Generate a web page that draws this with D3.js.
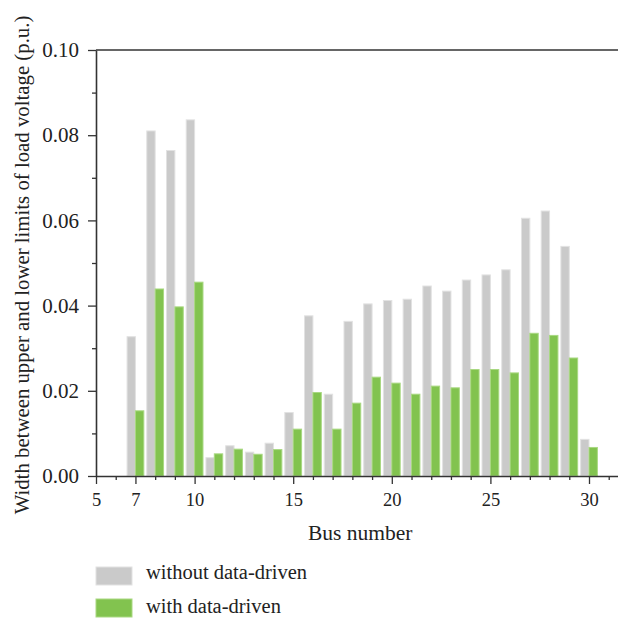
<!DOCTYPE html>
<html>
<head>
<meta charset="utf-8">
<script src="https://cdn.jsdelivr.net/npm/d3@7/dist/d3.min.js"></script>
<style>
  html, body { margin: 0; padding: 0; background: #fff; }
  svg text { font-family: "Liberation Serif", "DejaVu Serif", serif; fill: #222; }
</style>
</head>
<body>
<svg id="chart" width="618" height="622"></svg>
<script>
// Bus numbers and voltage band widths (p.u.)
const buses = [7, 8, 9, 10, 11, 12, 13, 14, 15, 16, 17, 18, 19, 20, 21, 22, 23, 24, 25, 26, 27, 28, 29, 30];
const withoutDD = [0.0327, 0.0810, 0.0764, 0.0836, 0.0043, 0.0071, 0.0056, 0.0077, 0.0149, 0.0376, 0.0192, 0.0363,
                   0.0404, 0.0412, 0.0415, 0.0446, 0.0434, 0.0460, 0.0472, 0.0484, 0.0605, 0.0622, 0.0539, 0.0086];
const withDD    = [0.0153, 0.0439, 0.0397, 0.0455, 0.0052, 0.0063, 0.0051, 0.0062, 0.0110, 0.0196, 0.0110, 0.0171,
                   0.0232, 0.0218, 0.0192, 0.0211, 0.0207, 0.0250, 0.0250, 0.0242, 0.0335, 0.0330, 0.0277, 0.0067];
const xMajorTicks = [5, 7, 10, 15, 20, 25, 30];
const yMajorTicks = [0, 0.02, 0.04, 0.06, 0.08, 0.10];
const seriesNames = ["without data-driven", "with data-driven"];

const svg = d3.select("#chart");
const mLeft = 96, mRight = 618, mTop = 50, mBottom = 476;

const x = d3.scaleLinear().domain([5, 5 + (mRight - mLeft) / 19.72]).range([mLeft, mRight]);
const y = d3.scaleLinear().domain([0, 0.10]).range([mBottom, mTop]);
const bw = (x(6) - x(5)) * 0.425;

const colors = {
  without: { fill: "#cacaca", stroke: "#e2e2e2" },
  with:    { fill: "#82c34f", stroke: "#a9d882" }
};

// Bars: grey to the left of each bus tick, green to the right
const g = svg.append("g");
g.selectAll("rect.without").data(buses).enter().append("rect")
  .attr("class", "without")
  .attr("x", d => x(d) - bw)
  .attr("y", (d, i) => y(withoutDD[i]))
  .attr("width", bw)
  .attr("height", (d, i) => y(0) - y(withoutDD[i]))
  .attr("fill", colors.without.fill)
  .attr("stroke", colors.without.stroke)
  .attr("stroke-width", 1);
g.selectAll("rect.with").data(buses).enter().append("rect")
  .attr("class", "with")
  .attr("x", d => x(d))
  .attr("y", (d, i) => y(withDD[i]))
  .attr("width", bw)
  .attr("height", (d, i) => y(0) - y(withDD[i]))
  .attr("fill", colors.with.fill)
  .attr("stroke", colors.with.stroke)
  .attr("stroke-width", 1);

const axisColor = "#333";

// Minor ticks
const xMinor = d3.range(5, 32).filter(v => !xMajorTicks.includes(v));
svg.append("g").attr("transform", `translate(0,${mBottom})`)
  .call(d3.axisBottom(x).tickValues(xMinor).tickSize(4).tickFormat(""))
  .call(a => a.select(".domain").remove())
  .call(a => a.selectAll("line").attr("stroke", axisColor).attr("stroke-width", 1.3));
const yMinor = [0.01, 0.03, 0.05, 0.07, 0.09];
svg.append("g").attr("transform", `translate(${mLeft},0)`)
  .call(d3.axisLeft(y).tickValues(yMinor).tickSize(4).tickFormat(""))
  .call(a => a.select(".domain").remove())
  .call(a => a.selectAll("line").attr("stroke", axisColor).attr("stroke-width", 1.3));

// Major axes
const xAxis = svg.append("g").attr("transform", `translate(0,${mBottom})`)
  .call(d3.axisBottom(x).tickValues(xMajorTicks).tickSize(8).tickSizeOuter(0).tickPadding(9).tickFormat(d3.format("d")));
const yAxis = svg.append("g").attr("transform", `translate(${mLeft},0)`)
  .call(d3.axisLeft(y).tickValues(yMajorTicks).tickSize(8).tickSizeOuter(0).tickPadding(9).tickFormat(d3.format(".2f")));
[xAxis, yAxis].forEach(a => {
  a.select(".domain").attr("stroke", axisColor).attr("stroke-width", 1.6);
  a.selectAll(".tick line").attr("stroke", axisColor).attr("stroke-width", 1.3);
});
xAxis.selectAll(".tick text").style("font-size", "18.5px").attr("fill", "#222");
yAxis.selectAll(".tick text").style("font-size", "21px").attr("fill", "#222");
// Top frame line
svg.append("line").attr("x1", mLeft).attr("x2", mRight).attr("y1", mTop).attr("y2", mTop)
  .attr("stroke", axisColor).attr("stroke-width", 1.6);

// Axis titles
svg.append("text").attr("x", x(18.4)).attr("y", 540).attr("text-anchor", "middle")
  .style("font-size", "21.5px").text("Bus number");
svg.append("text").attr("transform", `translate(29,265) rotate(-90)`)
  .attr("text-anchor", "middle").style("font-size", "20.8px")
  .text("Width between upper and lower limits of load voltage (p.u.)");

// Legend
const legend = svg.append("g");
[[colors.without, 567, 579], [colors.with, 599, 613]].forEach(([c, ly, by], i) => {
  legend.append("rect").attr("x", 96).attr("y", ly).attr("width", 36).attr("height", 18)
    .attr("fill", c.fill).attr("stroke", c.stroke).attr("stroke-width", 1);
  legend.append("text").attr("x", 146).attr("y", by).style("font-size", "20.5px").text(seriesNames[i]);
});
</script>
</body>
</html>
